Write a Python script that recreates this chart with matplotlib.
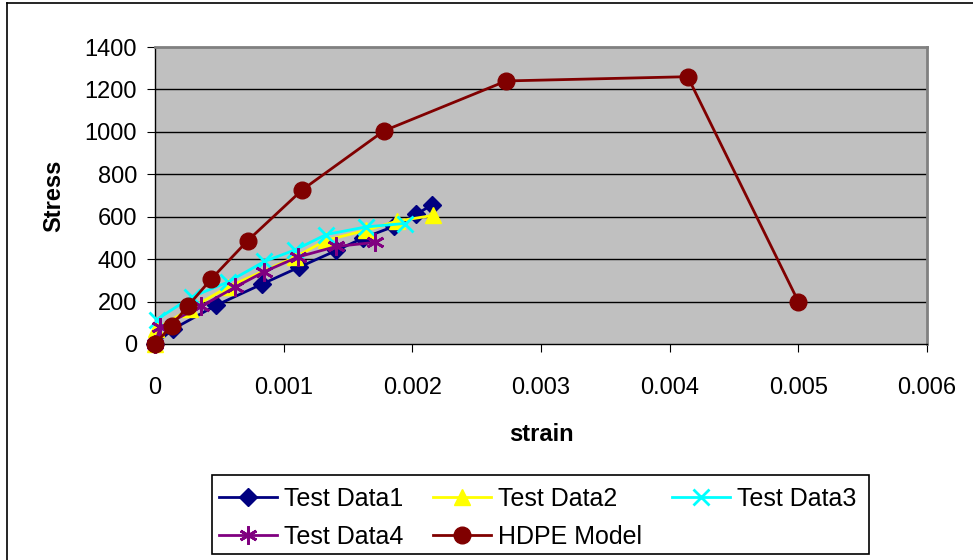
import matplotlib
matplotlib.use("Agg")
import matplotlib.pyplot as plt
from matplotlib.lines import Line2D
from matplotlib.patches import Rectangle

plt.rcParams['font.family'] = ['Liberation Sans', 'DejaVu Sans']

td1_x = [0, 0.000142, 0.000474, 0.00083, 0.00112, 0.00141, 0.00162, 0.00186, 0.00203, 0.00215]
td1_y = [0, 71, 182, 282, 362, 441, 500, 555, 611, 655]

td2_x = [0, 0.00001, 0.00027, 0.00057, 0.00109, 0.00133, 0.00164, 0.00188, 0.00216]
td2_y = [0, 70, 165, 270, 410, 489, 536, 579, 606]

td3_x = [0.000013, 0.000285, 0.00057, 0.00085, 0.00109, 0.00133, 0.00164, 0.00194]
td3_y = [115, 222, 293, 389, 444, 516, 552, 568]

td4_x = [0, 0.00004, 0.00036, 0.00062, 0.00085, 0.00111, 0.00141, 0.00171]
td4_y = [0, 79, 178, 267, 341, 410, 460, 479]

hdpe_x = [0, 0.00013, 0.000254, 0.000435, 0.00072, 0.001145, 0.00178, 0.00273, 0.00414, 0.0050]
hdpe_y = [0, 87, 178, 305, 487, 727, 1005, 1240, 1260, 200]

x_ticks = [0, 0.001, 0.002, 0.003, 0.004, 0.005, 0.006]
x_tick_labels = ["0", "0.001", "0.002", "0.003", "0.004", "0.005", "0.006"]
y_ticks = [0, 200, 400, 600, 800, 1000, 1200, 1400]

W, H = 973, 560
fig = plt.figure(figsize=(W/100, H/100), dpi=100)
# outer chart border (left and top visible)
fig.add_artist(Line2D([7/W, 7/W], [0, 1 - 3/H], transform=fig.transFigure, color='black', linewidth=1.2))
fig.add_artist(Line2D([7/W, 1], [1 - 3/H, 1 - 3/H], transform=fig.transFigure, color='black', linewidth=1.2))

ax = fig.add_axes([155/W, 1 - 344/H, (927-155)/W, (344-47)/H])
ax.set_facecolor('#C0C0C0')

for y in y_ticks[1:-1]:
    ax.axhline(y, color='black', linewidth=1, zorder=1)

kw = dict(clip_on=False, zorder=3)
l1, = ax.plot(td1_x, td1_y, color='#000080', marker='D', markersize=9, linewidth=2, label='Test Data1', **kw)
l2, = ax.plot(td2_x, td2_y, color='#FFFF00', marker='^', markersize=12, linewidth=2, label='Test Data2', **kw)
l3, = ax.plot(td3_x, td3_y, color='#00FFFF', marker='x', markersize=12, markeredgewidth=2, linewidth=2, label='Test Data3', **kw)
l4, = ax.plot(td4_x, td4_y, color='#800080', marker=(6, 2, 0), markersize=13, markeredgewidth=2, linewidth=2, label='Test Data4', **kw)
l5, = ax.plot(hdpe_x, hdpe_y, color='#800000', marker='o', markersize=12, linewidth=2, label='HDPE Model', **kw)

ax.set_xlim(0, 0.006)
ax.set_ylim(0, 1400)
ax.set_xticks(x_ticks)
ax.set_xticklabels(x_tick_labels)
ax.set_yticks(y_ticks)
ax.tick_params(axis='both', labelsize=17, direction='out', length=6, color='black')
ax.tick_params(axis='x', pad=18)
ax.tick_params(axis='y', pad=7)

for s in ['top', 'right']:
    ax.spines[s].set_color('#808080')
    ax.spines[s].set_linewidth(2)
for s in ['left', 'bottom']:
    ax.spines[s].set_color('black')
    ax.spines[s].set_linewidth(1)

ax.set_xlabel('strain', fontsize=17, fontweight='bold', labelpad=17)
ax.set_ylabel('Stress', fontsize=17, fontweight='bold', labelpad=14)

# legend box frame
fig.add_artist(Rectangle((212/W, 1 - 554/H), (869-212)/W, (554-475)/H, transform=fig.transFigure,
                         fill=False, edgecolor='black', linewidth=1.2))

handles = [l1, l4, l2, l5, l3]
labels = [h.get_label() for h in handles]
leg = fig.legend(handles, labels, loc='upper left', bbox_to_anchor=(214/W, 1 - 482/H),
                 ncol=3, fontsize=18, frameon=False,
                 handlelength=2.3, handletextpad=0.3, borderaxespad=0, borderpad=0.2,
                 columnspacing=1.2, labelspacing=0.55)

fig.savefig('out.png', dpi=100)
